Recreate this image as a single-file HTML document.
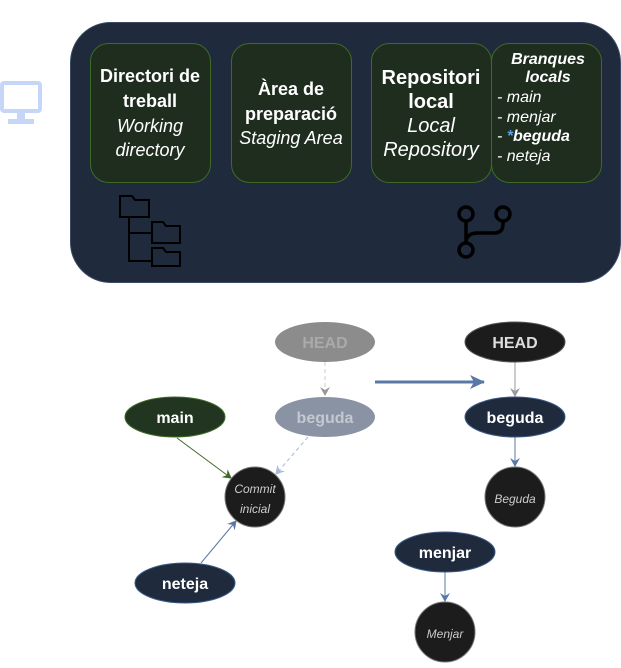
<!DOCTYPE html>
<html><head><meta charset="utf-8"><style>
body{margin:0;width:621px;height:663px;background:#fff;overflow:hidden;font-family:"Liberation Sans",sans-serif}
</style></head><body>
<svg width="621" height="663" xmlns="http://www.w3.org/2000/svg" font-family="Liberation Sans, sans-serif">
<defs>
<marker id="ag" markerWidth="10" markerHeight="10" refX="8" refY="5" orient="auto" markerUnits="userSpaceOnUse"><path d="M0,0 L9,5 L0,10 L3,5z" fill="#3d6b26"/></marker>
<marker id="ab" markerWidth="10" markerHeight="10" refX="8" refY="5" orient="auto" markerUnits="userSpaceOnUse"><path d="M0,0 L9,5 L0,10 L3,5z" fill="#5a78a6"/></marker>
<marker id="agr" markerWidth="10" markerHeight="10" refX="8" refY="5" orient="auto" markerUnits="userSpaceOnUse"><path d="M0,0 L9,5 L0,10 L3,5z" fill="#999"/></marker>
<marker id="alb" markerWidth="10" markerHeight="10" refX="8" refY="5" orient="auto" markerUnits="userSpaceOnUse"><path d="M0,0 L9,5 L0,10 L3,5z" fill="#a9b9d6"/></marker>
<marker id="abig" markerWidth="16" markerHeight="14" refX="14" refY="7" orient="auto" markerUnits="userSpaceOnUse"><path d="M0,0 L15,7 L0,14 L4,7z" fill="#5a78a6"/></marker>
</defs>
<rect x="70.5" y="22.5" width="550" height="260" rx="40" fill="#1f2a3c" stroke="#3a4a66"/>
<!-- monitor -->
<rect x="2" y="83" width="38" height="28" rx="2" fill="none" stroke="#c6d6f8" stroke-width="4"/>
<rect x="17" y="111" width="8" height="8" fill="#c6d6f8"/>
<rect x="8" y="119" width="26" height="5" fill="#c6d6f8"/>
<g fill="#1f2d1f" stroke="#3d6b26">
<rect x="90.5" y="43.5" width="120" height="139" rx="18"/>
<rect x="231.5" y="43.5" width="120" height="139" rx="18"/>
<rect x="371.5" y="43.5" width="120" height="139" rx="18"/>
<rect x="491.5" y="43.5" width="110" height="139" rx="18"/>
</g>
<g fill="#fff" text-anchor="middle" font-size="18">
<text x="150" y="82" font-weight="bold">Directori de</text>
<text x="150" y="107" font-weight="bold">treball</text>
<text x="150" y="132" font-style="italic">Working</text>
<text x="150" y="156" font-style="italic">directory</text>
<text x="291" y="95" font-weight="bold">Àrea de</text>
<text x="291" y="120" font-weight="bold">preparació</text>
<text x="291" y="144" font-style="italic">Staging Area</text>
<text x="431" y="84" font-weight="bold" font-size="20">Repositori</text>
<text x="431" y="108" font-weight="bold" font-size="20">local</text>
<text x="431" y="132" font-style="italic" font-size="20">Local</text>
<text x="431" y="156" font-style="italic" font-size="20">Repository</text>
<text x="548" y="64" font-weight="bold" font-style="italic" font-size="16">Branques</text>
<text x="548" y="82" font-weight="bold" font-style="italic" font-size="16">locals</text>
</g>
<g fill="#fff" font-size="16" font-style="italic">
<text x="497" y="102">- main</text>
<text x="497" y="122">- menjar</text>
<text x="497" y="141">- <tspan fill="#5aa0e6" font-weight="bold">*</tspan><tspan font-weight="bold">beguda</tspan></text>
<text x="497" y="161">- neteja</text>
</g>
<!-- folder tree icon -->
<g fill="none" stroke="#000" stroke-width="2">
<path d="M120,196 h12 l3,4 h14 v17 h-29z"/>
<path d="M129,217 v44 h23 M129,233 h23"/>
<path d="M152,222 h11 l3,4 h14 v17 h-28z"/>
<path d="M152,248 h11 l3,4 h14 v14 h-28z"/>
</g>
<!-- git branch icon -->
<g fill="none" stroke="#000" stroke-width="3.5">
<circle cx="466" cy="214" r="7"/><circle cx="503" cy="214" r="7"/><circle cx="466" cy="250" r="7"/>
<path d="M466,221 v22 M503,221 v3 q0,9 -9,9 h-16 q-12,0 -12,10"/>
</g>
<!-- connectors -->
<line x1="325" y1="362" x2="325" y2="395" stroke="#ccc" stroke-dasharray="4,3" marker-end="url(#agr)"/>
<line x1="308" y1="437" x2="276" y2="474" stroke="#a9b9d6" stroke-dasharray="4,3" marker-end="url(#alb)"/>
<line x1="177" y1="438" x2="231" y2="478" stroke="#3d6b26" marker-end="url(#ag)"/>
<line x1="201" y1="563" x2="236" y2="521" stroke="#5a78a6" marker-end="url(#ab)"/>
<line x1="375" y1="382" x2="484" y2="382" stroke="#5a78a6" stroke-width="3" marker-end="url(#abig)"/>
<line x1="515" y1="362" x2="515" y2="396" stroke="#999" marker-end="url(#agr)"/>
<line x1="515" y1="437" x2="515" y2="466" stroke="#5a78a6" marker-end="url(#ab)"/>
<line x1="445" y1="572" x2="445" y2="601" stroke="#5a78a6" marker-end="url(#ab)"/>
<!-- nodes -->
<ellipse cx="325" cy="342" rx="50" ry="20" fill="#8c8c8c"/>
<ellipse cx="325" cy="417" rx="50" ry="20" fill="#8a93a3"/>
<ellipse cx="175" cy="417" rx="50" ry="20" fill="#213520" stroke="#3d6b26"/>
<ellipse cx="185" cy="583" rx="50" ry="20" fill="#1f2a3c" stroke="#3a5a88"/>
<ellipse cx="515" cy="342" rx="50" ry="20" fill="#1c1c1c" stroke="#555"/>
<ellipse cx="515" cy="417" rx="50" ry="20" fill="#1f2a3c" stroke="#3a5a88"/>
<ellipse cx="445" cy="552" rx="50" ry="20" fill="#1f2a3c" stroke="#3a5a88"/>
<circle cx="255" cy="497" r="30" fill="#1c1c1c" stroke="#777"/>
<circle cx="515" cy="497" r="30" fill="#1c1c1c" stroke="#777"/>
<circle cx="445" cy="632" r="30" fill="#1c1c1c" stroke="#777"/>
<g text-anchor="middle" font-weight="bold" font-size="16">
<text x="325" y="348" fill="#aaa">HEAD</text>
<text x="325" y="423" fill="#c4c8d0">beguda</text>
<text x="175" y="423" fill="#fff">main</text>
<text x="185" y="589" fill="#fff">neteja</text>
<text x="515" y="348" fill="#ddd">HEAD</text>
<text x="515" y="423" fill="#fff">beguda</text>
<text x="445" y="558" fill="#fff">menjar</text>
</g>
<g text-anchor="middle" font-style="italic" font-size="12" fill="#ccc">
<text x="255" y="493">Commit</text>
<text x="255" y="513">inicial</text>
<text x="515" y="503">Beguda</text>
<text x="445" y="638">Menjar</text>
</g>
</svg>
</body></html>
